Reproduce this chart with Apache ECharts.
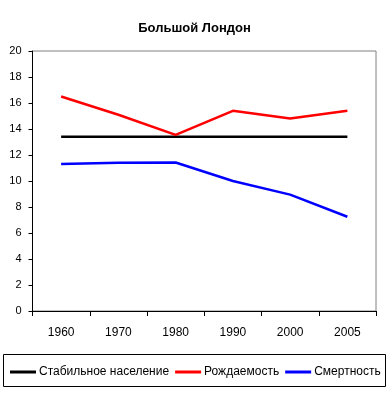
<!DOCTYPE html>
<html><head><meta charset="utf-8">
<script src="https://cdn.jsdelivr.net/npm/echarts@6/dist/echarts.min.js"></script>
<style>html,body{margin:0;padding:0;background:#fff}#c{width:389px;height:394px}</style>
</head><body><div id="c"></div>
<script>
var categories = ['1960','1970','1980','1990','2000','2005'];
var stable = [13.4, 13.4, 13.4, 13.4, 13.4, 13.4];
var births = [16.5, 15.1, 13.55, 15.4, 14.8, 15.4];
var deaths = [11.3, 11.4, 11.42, 10.0, 8.95, 7.25];
var yTicks = [0, 20, 2];
var seriesNames = ['Стабильное население', 'Рождаемость', 'Смертность'];
var font = 'Arial, "Liberation Sans", sans-serif';
var chart = echarts.init(document.getElementById('c'));
function line(name, data, color) {
  return {name: name, type: 'line', data: data, symbol: 'none', showSymbol: false,
    lineStyle: {color: color, width: 2.5}, itemStyle: {color: color}, animation: false};
}
chart.setOption({
  animation: false,
  title: {text: 'Большой Лондон', left: 'center', top: 17,
    textStyle: {fontFamily: font, fontSize: 13, fontWeight: 'bold', color: '#000'}},
  grid: {left: 32.5, right: 13, top: 51, bottom: 83, show: true, borderColor: '#808080', borderWidth: 1},
  xAxis: {type: 'category', data: categories, boundaryGap: true,
    axisLine: {lineStyle: {color: '#000', width: 1}},
    axisTick: {show: true, length: 5, lineStyle: {color: '#000'}},
    axisLabel: {fontFamily: font, fontSize: 12, color: '#000', margin: 16}},
  yAxis: {type: 'value', min: yTicks[0], max: yTicks[1], interval: yTicks[2],
    splitLine: {show: false},
    axisLine: {show: true, lineStyle: {color: '#000', width: 1}},
    axisTick: {show: true, length: 4, lineStyle: {color: '#000'}},
    axisLabel: {fontFamily: font, fontSize: 11, color: '#000', margin: 11}},
  legend: {left: 5, top: 361, itemWidth: 26, itemHeight: 3, itemGap: 6, icon: 'rect',
    textStyle: {fontFamily: font, fontSize: 12, color: '#000', padding: [0, 0, 0, -2]},
    data: seriesNames},
  graphic: [{type: 'rect', shape: {x: 3.5, y: 354.5, width: 382, height: 32},
    style: {fill: 'none', stroke: '#000', lineWidth: 1}}],
  series: [line(seriesNames[0], stable, '#000000'), line(seriesNames[1], births, '#ff0000'), line(seriesNames[2], deaths, '#0000ff')]
});
</script></body></html>
